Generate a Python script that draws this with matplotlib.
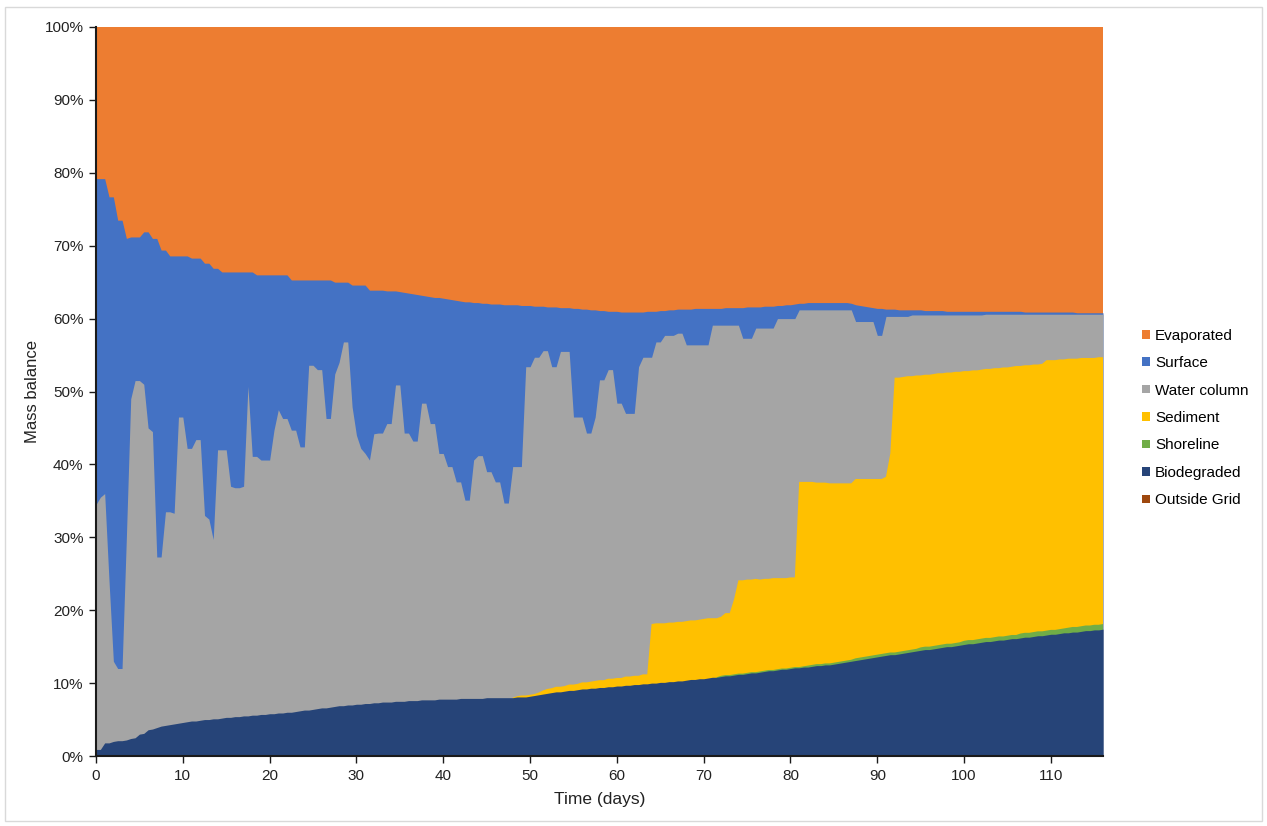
import numpy as np
import matplotlib
matplotlib.use("Agg")
import matplotlib.pyplot as plt
from matplotlib.patches import Patch, Rectangle
from matplotlib.ticker import FuncFormatter, MultipleLocator

plt.rcParams['font.family'] = ['Liberation Sans', 'DejaVu Sans']

# Model output every half day, 0 to 116 days
days = np.arange(0, 116.5, 0.5)

# Mass balance shares (% of released oil), one value per half day
biodegraded = [
    0.9, 0.9, 1.8, 1.8, 2.0, 2.1, 2.1, 2.2, 2.4, 2.5,
    3.0, 3.1, 3.6, 3.7, 3.9, 4.1, 4.2, 4.3, 4.4, 4.5,
    4.6, 4.7, 4.8, 4.8, 4.9, 5.0, 5.0, 5.1, 5.1, 5.2,
    5.3, 5.3, 5.4, 5.4, 5.5, 5.5, 5.6, 5.6, 5.7, 5.7,
    5.8, 5.8, 5.9, 5.9, 6.0, 6.0, 6.1, 6.2, 6.3, 6.3,
    6.4, 6.5, 6.6, 6.6, 6.7, 6.8, 6.9, 6.9, 7.0, 7.0,
    7.1, 7.1, 7.2, 7.2, 7.3, 7.3, 7.4, 7.4, 7.4, 7.5,
    7.5, 7.5, 7.6, 7.6, 7.6, 7.7, 7.7, 7.7, 7.7, 7.8,
    7.8, 7.8, 7.8, 7.8, 7.9, 7.9, 7.9, 7.9, 7.9, 7.9,
    8.0, 8.0, 8.0, 8.0, 8.0, 8.0, 8.0, 8.1, 8.1, 8.1,
    8.2, 8.3, 8.4, 8.5, 8.6, 8.7, 8.8, 8.8, 8.9, 9.0,
    9.0, 9.1, 9.2, 9.2, 9.3, 9.3, 9.4, 9.4, 9.5, 9.5,
    9.6, 9.6, 9.7, 9.7, 9.8, 9.8, 9.9, 9.9, 10.0, 10.0,
    10.1, 10.1, 10.2, 10.2, 10.3, 10.3, 10.4, 10.5, 10.5, 10.6,
    10.6, 10.7, 10.8, 10.8, 10.9, 11.0, 11.0, 11.1, 11.2, 11.2,
    11.3, 11.4, 11.4, 11.5, 11.6, 11.7, 11.7, 11.8, 11.9, 11.9,
    12.0, 12.1, 12.1, 12.2, 12.2, 12.3, 12.4, 12.4, 12.5, 12.5,
    12.6, 12.7, 12.8, 12.9, 13.0, 13.1, 13.2, 13.3, 13.4, 13.5,
    13.6, 13.7, 13.8, 13.9, 13.9, 14.0, 14.1, 14.2, 14.3, 14.4,
    14.5, 14.6, 14.6, 14.7, 14.8, 14.9, 15.0, 15.0, 15.1, 15.2,
    15.3, 15.4, 15.4, 15.5, 15.6, 15.7, 15.7, 15.8, 15.9, 15.9,
    16.0, 16.1, 16.1, 16.2, 16.3, 16.3, 16.4, 16.5, 16.5, 16.6,
    16.7, 16.7, 16.8, 16.9, 16.9, 17.0, 17.0, 17.1, 17.2, 17.2,
    17.3, 17.3, 17.4,
]

shoreline = [0.0] * 140 + [
    0.0, 0.0, 0.0, 0.0, 0.1, 0.1, 0.1, 0.1, 0.1, 0.1,
    0.1, 0.1, 0.1, 0.1, 0.1, 0.1, 0.1, 0.1, 0.1, 0.1,
    0.1, 0.1, 0.1, 0.1, 0.2, 0.2, 0.2, 0.2, 0.2, 0.2,
    0.2, 0.2, 0.2, 0.2, 0.2, 0.3, 0.3, 0.3, 0.3, 0.3,
    0.3, 0.3, 0.3, 0.3, 0.3, 0.3, 0.3, 0.3, 0.3, 0.3,
    0.4, 0.4, 0.4, 0.4, 0.4, 0.4, 0.4, 0.4, 0.4, 0.4,
    0.5, 0.5, 0.5, 0.5, 0.5, 0.5, 0.5, 0.5, 0.5, 0.5,
    0.5, 0.5, 0.5, 0.6, 0.6, 0.6, 0.6, 0.6, 0.6, 0.6,
    0.6, 0.6, 0.6, 0.6, 0.7, 0.7, 0.7, 0.7, 0.7, 0.7,
    0.7, 0.7, 0.7,
]

sediment = [0.0] * 90 + [
    0.0, 0.0, 0.0, 0.0, 0.0, 0.0, 0.0, 0.1, 0.2, 0.2,
    0.2, 0.2, 0.3, 0.5, 0.6, 0.6, 0.7, 0.7, 0.7, 0.8,
    0.8, 0.8, 0.9, 0.9, 0.9, 1.0, 1.0, 1.0, 1.1, 1.1,
    1.1, 1.1, 1.2, 1.2, 1.2, 1.2, 1.3, 1.3, 8.1, 8.2,
    8.1, 8.1, 8.1, 8.1, 8.1, 8.1, 8.1, 8.1, 8.1, 8.1,
    8.2, 8.2, 8.1, 8.1, 8.1, 8.5, 8.5, 10.3, 12.8, 12.8,
    12.8, 12.7, 12.8, 12.6, 12.6, 12.5, 12.6, 12.5, 12.4, 12.4,
    12.4, 12.3, 25.4, 25.3, 25.2, 25.1, 24.9, 24.9, 24.8, 24.7,
    24.6, 24.5, 24.4, 24.3, 24.2, 24.6, 24.5, 24.4, 24.3, 24.2,
    24.1, 24.0, 24.2, 27.3, 37.7, 37.6, 37.6, 37.6, 37.5, 37.5,
    37.3, 37.3, 37.3, 37.3, 37.3, 37.2, 37.2, 37.2, 37.2, 37.1,
    37.0, 36.9, 37.0, 36.9, 36.9, 36.9, 36.9, 36.9, 36.8, 36.9,
    36.8, 36.8, 36.9, 36.7, 36.7, 36.7, 36.7, 36.6, 36.7, 37.1,
    37.0, 37.0, 37.0, 36.9, 36.9, 36.8, 36.8, 36.8, 36.7, 36.7,
    36.6, 36.7, 36.6,
]

water_column = [
    33.6, 34.6, 34.2, 22.2, 11.0, 9.9, 9.9, 27.8, 46.6, 49.0,
    48.5, 47.9, 41.4, 40.8, 23.4, 23.2, 29.3, 29.2, 28.9, 42.0,
    41.9, 37.5, 37.4, 38.6, 38.5, 28.0, 27.5, 24.6, 36.9, 36.8,
    36.7, 31.7, 31.4, 31.4, 31.5, 45.2, 35.5, 35.5, 34.9, 34.9,
    34.8, 38.9, 41.6, 40.4, 40.3, 38.7, 38.6, 36.2, 36.1, 47.3,
    47.2, 46.5, 46.4, 39.7, 39.6, 45.6, 47.1, 49.9, 49.8, 40.9,
    36.9, 35.1, 34.3, 33.4, 36.9, 37.0, 36.9, 38.2, 38.2, 43.4,
    43.4, 36.8, 36.7, 35.6, 35.6, 40.7, 40.7, 37.9, 37.9, 33.7,
    33.7, 31.9, 31.9, 29.8, 29.7, 27.2, 27.2, 32.7, 33.3, 33.3,
    31.0, 31.0, 29.6, 29.6, 26.7, 26.7, 31.7, 31.5, 31.4, 45.1,
    45.0, 46.2, 46.0, 46.6, 46.4, 44.1, 43.9, 46.0, 45.9, 45.7,
    36.7, 36.6, 36.4, 34.2, 34.1, 36.2, 41.2, 41.2, 42.4, 42.4,
    37.7, 37.7, 36.1, 36.1, 36.0, 42.4, 43.5, 43.5, 36.6, 38.6,
    38.6, 39.5, 39.4, 39.4, 39.6, 39.6, 37.9, 37.8, 37.8, 37.7,
    37.6, 37.5, 40.2, 40.2, 40.0, 39.5, 39.5, 37.6, 35.0, 33.2,
    33.1, 33.1, 34.4, 34.5, 34.4, 34.4, 34.3, 35.6, 35.6, 35.6,
    35.5, 35.5, 23.6, 23.6, 23.6, 23.6, 23.7, 23.7, 23.7, 23.8,
    23.8, 23.8, 23.8, 23.8, 23.8, 21.6, 21.6, 21.6, 21.6, 21.6,
    19.7, 19.7, 22.0, 18.8, 8.4, 8.4, 8.3, 8.2, 8.4, 8.3,
    8.3, 8.2, 8.2, 8.1, 8.0, 8.0, 7.9, 7.9, 7.8, 7.8,
    7.7, 7.7, 7.6, 7.6, 7.5, 7.5, 7.5, 7.4, 7.4, 7.3,
    7.3, 7.2, 7.1, 7.1, 7.0, 7.0, 6.9, 6.9, 6.8, 6.3,
    6.3, 6.3, 6.2, 6.2, 6.1, 6.1, 6.1, 6.0, 6.0, 6.0,
    6.0, 5.9, 5.9,
]

surface = [
    44.7, 43.7, 43.2, 52.7, 63.7, 61.5, 61.5, 41.0, 22.2, 19.7,
    19.7, 20.9, 26.9, 26.5, 43.7, 42.1, 35.9, 35.1, 35.3, 22.1,
    22.1, 26.4, 26.1, 24.9, 24.9, 34.6, 35.1, 37.2, 24.9, 24.4,
    24.4, 29.4, 29.6, 29.6, 29.4, 15.7, 25.3, 24.9, 25.4, 25.4,
    25.4, 21.3, 18.5, 19.7, 19.7, 20.6, 20.6, 22.9, 22.9, 11.7,
    11.7, 12.3, 12.3, 19.0, 19.0, 12.6, 11.0, 8.2, 8.2, 16.7,
    20.6, 22.4, 23.1, 23.3, 19.7, 19.6, 19.6, 18.2, 18.2, 12.9,
    12.8, 19.3, 19.2, 20.2, 20.1, 14.8, 14.7, 17.4, 17.3, 21.4,
    21.3, 23.0, 22.9, 24.9, 24.8, 27.2, 27.2, 21.6, 21.0, 20.9,
    23.1, 23.0, 24.4, 24.4, 27.2, 27.2, 22.2, 22.2, 22.1, 8.4,
    8.4, 7.0, 7.0, 6.1, 6.0, 8.2, 8.2, 6.0, 6.0, 6.0,
    14.9, 14.9, 14.8, 17.0, 16.9, 14.7, 9.5, 9.5, 8.0, 8.0,
    12.6, 12.5, 13.9, 13.9, 13.9, 7.5, 6.2, 6.3, 6.3, 4.2,
    4.3, 3.4, 3.5, 3.5, 3.3, 3.3, 4.9, 4.9, 5.0, 5.0,
    5.0, 5.0, 2.3, 2.3, 2.3, 2.4, 2.4, 2.4, 2.4, 4.2,
    4.3, 4.3, 2.9, 2.9, 3.0, 3.0, 3.0, 1.8, 1.8, 1.9,
    1.9, 2.0, 0.9, 0.9, 1.0, 1.0, 1.0, 1.0, 1.0, 1.0,
    1.0, 1.0, 1.0, 1.0, 0.9, 2.3, 2.2, 2.1, 2.0, 1.9,
    3.7, 3.7, 1.0, 1.0, 1.0, 0.9, 0.9, 0.9, 0.7, 0.7,
    0.7, 0.6, 0.6, 0.6, 0.6, 0.6, 0.5, 0.5, 0.5, 0.5,
    0.5, 0.5, 0.5, 0.5, 0.5, 0.4, 0.4, 0.4, 0.4, 0.4,
    0.4, 0.4, 0.4, 0.4, 0.3, 0.3, 0.3, 0.3, 0.3, 0.3,
    0.3, 0.3, 0.3, 0.3, 0.3, 0.3, 0.2, 0.2, 0.2, 0.2,
    0.2, 0.2, 0.2,
]

evaporated = [
    20.8, 20.8, 20.8, 23.3, 23.3, 26.5, 26.5, 29.0, 28.8, 28.8,
    28.8, 28.1, 28.1, 29.0, 29.0, 30.6, 30.6, 31.4, 31.4, 31.4,
    31.4, 31.4, 31.7, 31.7, 31.7, 32.4, 32.4, 33.1, 33.1, 33.6,
    33.6, 33.6, 33.6, 33.6, 33.6, 33.6, 33.6, 34.0, 34.0, 34.0,
    34.0, 34.0, 34.0, 34.0, 34.0, 34.7, 34.7, 34.7, 34.7, 34.7,
    34.7, 34.7, 34.7, 34.7, 34.7, 35.0, 35.0, 35.0, 35.0, 35.4,
    35.4, 35.4, 35.4, 36.1, 36.1, 36.1, 36.1, 36.2, 36.2, 36.2,
    36.3, 36.4, 36.5, 36.6, 36.7, 36.8, 36.9, 37.0, 37.1, 37.1,
    37.2, 37.3, 37.4, 37.5, 37.6, 37.7, 37.7, 37.8, 37.8, 37.9,
    37.9, 38.0, 38.0, 38.0, 38.1, 38.1, 38.1, 38.1, 38.2, 38.2,
    38.2, 38.3, 38.3, 38.3, 38.4, 38.4, 38.4, 38.5, 38.5, 38.5,
    38.6, 38.6, 38.7, 38.7, 38.8, 38.8, 38.9, 38.9, 39.0, 39.0,
    39.0, 39.1, 39.1, 39.1, 39.1, 39.1, 39.1, 39.0, 39.0, 39.0,
    38.9, 38.9, 38.8, 38.8, 38.7, 38.7, 38.7, 38.7, 38.6, 38.6,
    38.6, 38.6, 38.6, 38.6, 38.6, 38.5, 38.5, 38.5, 38.5, 38.5,
    38.4, 38.4, 38.4, 38.4, 38.3, 38.3, 38.3, 38.2, 38.2, 38.1,
    38.1, 38.0, 37.9, 37.9, 37.8, 37.8, 37.8, 37.8, 37.8, 37.8,
    37.8, 37.8, 37.8, 37.8, 37.9, 38.1, 38.2, 38.3, 38.4, 38.5,
    38.6, 38.6, 38.7, 38.7, 38.7, 38.8, 38.8, 38.8, 38.8, 38.8,
    38.8, 38.9, 38.9, 38.9, 38.9, 38.9, 39.0, 39.0, 39.0, 39.0,
    39.0, 39.0, 39.0, 39.0, 39.0, 39.0, 39.0, 39.0, 39.0, 39.0,
    39.0, 39.0, 39.0, 39.0, 39.1, 39.1, 39.1, 39.1, 39.1, 39.1,
    39.1, 39.1, 39.1, 39.1, 39.1, 39.1, 39.2, 39.2, 39.2, 39.2,
    39.2, 39.2, 39.2,
]

outside_grid = [0.0] * len(days)

labels = ["Evaporated", "Surface", "Water column", "Sediment",
          "Shoreline", "Biodegraded", "Outside Grid"]
colors = {
    "Evaporated": "#ED7D31",
    "Surface": "#4472C4",
    "Water column": "#A5A5A5",
    "Sediment": "#FFC000",
    "Shoreline": "#70AD47",
    "Biodegraded": "#264478",
    "Outside Grid": "#9E480E",
}

# Stack from the bottom up: reverse of the legend order
stack_order = ["Outside Grid", "Biodegraded", "Shoreline", "Sediment",
               "Water column", "Surface", "Evaporated"]
series = {
    "Outside Grid": outside_grid,
    "Biodegraded": biodegraded,
    "Shoreline": shoreline,
    "Sediment": sediment,
    "Water column": water_column,
    "Surface": surface,
    "Evaporated": evaporated,
}

fig = plt.figure(figsize=(12.67, 8.26), dpi=100)
ax = fig.add_axes([96 / 1267, 1 - 756 / 826, (1103 - 96) / 1267, (756 - 27) / 826])

# Cumulative stack; each band is painted from zero, top band first,
# so neighbouring bands meet without seams. Spans where a band is
# empty are skipped so no stray edge shows on the band below.
cumulative = np.cumsum([series[k] for k in stack_order], axis=0)
for name, top in reversed(list(zip(stack_order, cumulative))):
    present = np.asarray(series[name]) > 0
    present = present | np.roll(present, 1) | np.roll(present, -1)
    if present.any():
        ax.fill_between(days, 0, top, where=present,
                        color=colors[name], linewidth=0)

ax.set_xlim(0, 116)
ax.set_ylim(0, 100)
ax.xaxis.set_major_locator(MultipleLocator(10))
ax.yaxis.set_major_locator(MultipleLocator(10))
ax.yaxis.set_major_formatter(FuncFormatter(lambda v, p: f"{v:.0f}%"))

for side in ("top", "right"):
    ax.spines[side].set_visible(False)
for side in ("left", "bottom"):
    ax.spines[side].set_linewidth(1.5)
    ax.spines[side].set_color("#1a1a1a")
    ax.spines[side].set_zorder(5)

ax.tick_params(axis="both", direction="out", length=5, width=1,
               color="#1a1a1a", labelsize=11, labelcolor="#222222", pad=4)

ax.set_xlabel("Time (days)", fontsize=12.5, color="#222222", labelpad=7)
ax.set_ylabel("Mass balance", fontsize=12, color="#222222", labelpad=3)

handles = [Patch(facecolor=colors[k], edgecolor="none") for k in labels]
fig.legend(handles, labels, loc="center left",
           bbox_to_anchor=(1142 / 1267, 1 - 418 / 826),
           frameon=False, fontsize=11, handlelength=0.5, handleheight=0.5,
           handletextpad=0.35, labelspacing=0.88, borderpad=0, borderaxespad=0)

# Light chart-area border
fig.patches.append(Rectangle((5 / 1267, 1 - 821 / 826), (1262 - 5) / 1267,
                             (821 - 7) / 826, transform=fig.transFigure,
                             fill=False, edgecolor="#D9D9D9", linewidth=1))

fig.savefig("out.png", dpi=100)
